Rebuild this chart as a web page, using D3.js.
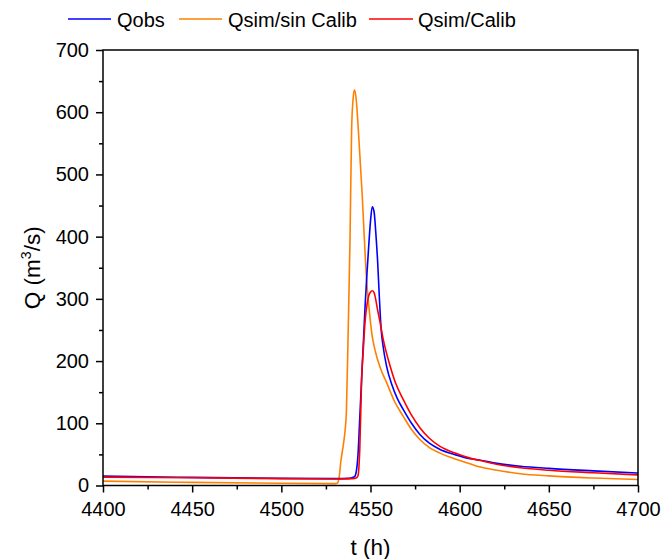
<!DOCTYPE html>
<html>
<head>
<meta charset="utf-8">
<script src="https://cdn.jsdelivr.net/npm/d3@7"></script>
<style>
  html, body { margin: 0; padding: 0; background: #fff; }
  svg { display: block; }
  text { font-family: "Liberation Sans", Arial, sans-serif; fill: #000; }
</style>
</head>
<body>
<svg id="chart" width="661" height="559"></svg>
<script>
// ---- data ----
const seriesNames = ["Qobs", "Qsim/sin Calib", "Qsim/Calib"];
const seriesColors = ["#0000ff", "#ff8000", "#ff0000"];

const obsT = [4400, 4450, 4500, 4530, 4538, 4541, 4542, 4543, 4544, 4545, 4546, 4547, 4548, 4549, 4550, 4551, 4552, 4553, 4554, 4555, 4556, 4557, 4559, 4562, 4565, 4568.4, 4573, 4577.7, 4583, 4589, 4597, 4605.8, 4611, 4620, 4634, 4650, 4675, 4700];
const obsQ = [15, 13, 11.5, 11, 11.5, 14, 22, 50, 110, 170, 230, 290, 340, 385, 425, 448, 440, 405, 360, 300, 250, 225, 192, 162, 140, 122, 100, 82, 68, 58, 50, 43, 41, 36, 31, 27.5, 23.5, 20];

const sinT = [4400, 4450, 4500, 4530, 4531.5, 4532.5, 4533.3, 4535, 4535.7, 4536.5, 4537.5, 4538.5, 4539.4, 4540.2, 4541, 4542, 4543.2, 4545.4, 4546.3, 4547.8, 4549.2, 4550.7, 4552.5, 4555.9, 4559.1, 4563.5, 4568.4, 4573, 4577.7, 4583, 4589, 4597, 4605.8, 4611, 4620, 4634, 4650, 4675, 4700];
const sinQ = [7, 5, 3.5, 3, 4, 15, 37, 70, 87, 120, 250, 394, 571, 620, 636, 620, 571, 464, 411, 331, 285, 245, 218, 186, 165, 135, 111, 90, 74, 61, 52, 43, 35, 30, 25, 19, 15.5, 12, 9.6];

const calT = [4400, 4450, 4500, 4530, 4540, 4542, 4543, 4544, 4545, 4546, 4547, 4548, 4549, 4550, 4551, 4552, 4553, 4554, 4555, 4557.2, 4561, 4564, 4568.4, 4573, 4577.7, 4583, 4589, 4597, 4605.8, 4611, 4620, 4634, 4650, 4675, 4700];
const calQ = [13.5, 12.5, 11, 10.5, 11, 12, 16, 60, 170, 220, 265, 290, 305, 311, 313, 310, 298, 282, 268, 234, 192, 165, 138, 113, 93, 76, 63, 52.5, 44, 40.5, 34.5, 28.5, 24.5, 20.5, 17];

const xMajor = [4400, 4450, 4500, 4550, 4600, 4650, 4700];
const xMinor = [4425, 4475, 4525, 4575, 4625, 4675];
const yMajor = [0, 100, 200, 300, 400, 500, 600, 700];
const yMinor = [50, 150, 250, 350, 450, 550, 650];

// ---- layout ----
const mLeft = 103, mRight = 638, mTop = 50, mBottom = 485.5;
const svg = d3.select("#chart");

const x = d3.scaleLinear().domain([4400, 4700]).range([mLeft, mRight]);
const y = d3.scaleLinear().domain([0, 700]).range([mBottom, mTop]);

const FS = 20;
const FT = 22.5;

const series = [
  { t: obsT, q: obsQ },
  { t: sinT, q: sinQ },
  { t: calT, q: calQ }
];
const line = d3.line().x(d => x(d[0])).y(d => y(d[1])).curve(d3.curveMonotoneX);
const plot = svg.append("g");
const order = [1, 0, 2];
order.forEach(i => {
  const s = series[i];
  const pts = s.t.map((t, k) => [t, s.q[k]]);
  plot.append("path")
    .datum(pts)
    .attr("d", line)
    .attr("fill", "none")
    .attr("stroke", seriesColors[i])
    .attr("stroke-width", 1.6)
    .attr("stroke-linejoin", "round");
});

// frame
svg.append("rect")
  .attr("x", mLeft).attr("y", mTop)
  .attr("width", mRight - mLeft).attr("height", mBottom - mTop)
  .attr("fill", "none").attr("stroke", "#000").attr("stroke-width", 1.5);

// x axis
const gx = svg.append("g").attr("transform", `translate(0,${mBottom})`);
gx.call(d3.axisBottom(x).tickValues(xMajor).tickSize(7).tickPadding(9).tickFormat(d3.format("d")));
const gxm = svg.append("g").attr("transform", `translate(0,${mBottom})`);
gxm.call(d3.axisBottom(x).tickValues(xMinor).tickSize(4).tickFormat(""));

// y axis
const gy = svg.append("g").attr("transform", `translate(${mLeft},0)`);
gy.call(d3.axisLeft(y).tickValues(yMajor).tickSize(7).tickPadding(7).tickFormat(d3.format("d")));
const gym = svg.append("g").attr("transform", `translate(${mLeft},0)`);
gym.call(d3.axisLeft(y).tickValues(yMinor).tickSize(4).tickFormat(""));

[gx, gxm, gy, gym].forEach(g => {
  g.select(".domain").remove();
  g.selectAll(".tick line").attr("stroke", "#000").attr("stroke-width", 1.5);
  g.selectAll(".tick text").attr("font-size", FS).attr("font-family", "Liberation Sans, Arial, sans-serif").attr("fill", "#000");
});

// axis titles
svg.append("text")
  .attr("x", (mLeft + mRight) / 2).attr("y", 555)
  .attr("text-anchor", "middle").attr("font-size", FT)
  .text("t (h)");

const yl = svg.append("text")
  .attr("transform", `translate(40,${(mTop + mBottom) / 2}) rotate(-90)`)
  .attr("text-anchor", "middle").attr("font-size", FT);
yl.append("tspan").text("Q (m");
yl.append("tspan").attr("font-size", 14).attr("dy", -9).text("3");
yl.append("tspan").attr("dy", 9).text("/s)");

// legend
const legendItems = [
  { i: 0, x0: 68, x1: 111, tx: 117 },
  { i: 1, x0: 179, x1: 222, tx: 228 },
  { i: 2, x0: 369, x1: 413, tx: 418 }
];
const lg = svg.append("g");
legendItems.forEach(it => {
  lg.append("line")
    .attr("x1", it.x0).attr("x2", it.x1).attr("y1", 19).attr("y2", 19)
    .attr("stroke", seriesColors[it.i]).attr("stroke-width", 1.6);
  lg.append("text")
    .attr("x", it.tx).attr("y", 27).attr("font-size", FS)
    .text(seriesNames[it.i]);
});
</script>
</body>
</html>
